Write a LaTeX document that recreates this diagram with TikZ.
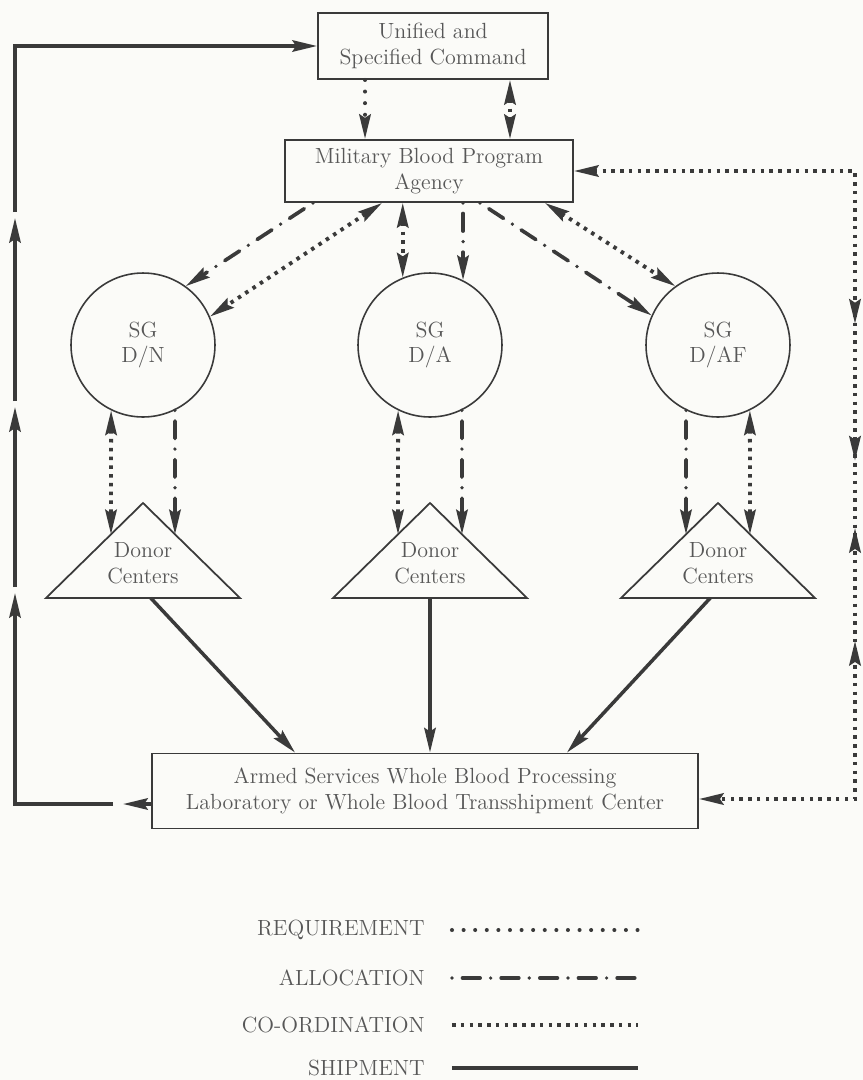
\documentclass[tikz,border=0pt]{standalone}
\usepackage{fontspec}
\usepackage{tikz}
\usetikzlibrary{arrows.meta,calc,decorations.markings}
\definecolor{ink}{HTML}{3A3A3A}
\definecolor{paper}{HTML}{FBFBF8}
\def\dgfont{\fontsize{12.5}{14.5}\selectfont}
\def\donortri(#1){\draw[ink, line width=1pt] ($(#1)+(0,-60)$) coordinate (#1A) -- ($(#1)+(-97,35)$) coordinate (#1L) -- ($(#1)+(97,35)$) coordinate (#1R) -- cycle;}
\tikzset{
  box/.style={draw=ink, line width=1.1pt, align=center, font=\dgfont, text=ink!85, inner sep=0pt},
  sg/.style={draw=ink, line width=0.9pt, circle, minimum size=2.88cm, align=center, font=\dgfont, text=ink!85, inner sep=0pt},
  lbl/.style={align=center, font=\dgfont, text=ink!85, inner sep=0pt},
  req/.style={draw=ink, line width=2.3pt, line cap=round, dash pattern=on 0pt off 6.6pt},
  alloc/.style={draw=ink, line width=2.1pt, line cap=round, dash pattern=on 0pt off 6pt on 10pt off 6pt},
  coordn/.style={draw=ink, line width=2.2pt, dash pattern=on 2pt off 3pt},
  ship/.style={draw=ink, line width=2pt},
}

\begin{document}
\begin{tikzpicture}[x=0.02cm, y=-0.02cm, >={Stealth[length=14pt,width=6.5pt,inset=2pt]}]
			%%%%% START %%%%%
			\fill[paper] (0,0) rectangle (863,1080);
			
			\node[box, minimum width=4.6cm, minimum height=1.32cm] (usc) at (433,46) {Unified and\\Specified Command};
			\node[box, minimum width=5.76cm, minimum height=1.24cm] (mbpa) at (429,171) {Military Blood Program\\Agency};
			
			\node[sg] (sgn) at (143,345) {SG\\D/N};
			\node[sg] (sga) at (430,345) {SG\\D/A};
			\node[sg] (sgf) at (718,345) {SG\\D/AF};
			
			\node[lbl] (dcn) at (143,563) {Donor\\Centers};
			\node[lbl] (dca) at (430,563) {Donor\\Centers};
			\node[lbl] (dcf) at (718,563) {Donor\\Centers};
			\donortri(dcn)
			\donortri(dca)
			\donortri(dcf)
			
			\node[box, minimum width=10.92cm, minimum height=1.5cm] (lab) at (425,791) {Armed Services Whole Blood Processing\\Laboratory or Whole Blood Transshipment Center};
			
			% command and agency
			\draw[req,->] ([xshift=-1.36cm]usc.south) -- ([xshift=-1.36cm]usc.south |- mbpa.north);
			\draw[coordn,<->] ([xshift=1.54cm]usc.south) -- ([xshift=1.54cm]usc.south |- mbpa.north);
			
			% agency to surgeons general
			\draw[alloc,->] ([xshift=0.58cm]mbpa.south west) -- (sgn.54);
			\draw[coordn,<->] ([xshift=1.96cm]mbpa.south west) -- (sgn.23);
			\draw[coordn,<->] (sga.112 |- mbpa.south) -- (sga.112);
			\draw[alloc,->] (sga.63 |- mbpa.south) -- (sga.63);
			\draw[alloc,->] ([xshift=3.92cm]mbpa.south west) -- (sgf.156);
			\draw[coordn,<->] ([xshift=5.22cm]mbpa.south west) -- (sgf.126);
			
			% surgeons general to donor centers
			\draw[coordn,<->] (sgn.-116) -- ($(dcnA)!0.33!(dcnL)$);
			\draw[alloc,->] (sgn.-64) -- ($(dcnA)!0.33!(dcnR)$);
			\draw[coordn,<->] (sga.-116) -- ($(dcaA)!0.33!(dcaL)$);
			\draw[alloc,->] (sga.-64) -- ($(dcaA)!0.33!(dcaR)$);
			\draw[alloc,->] (sgf.-116) -- ($(dcfA)!0.33!(dcfL)$);
			\draw[coordn,<->] (sgf.-64) -- ($(dcfA)!0.33!(dcfR)$);
			
			% shipments
			\draw[ship,->] ($(dcnL)!0.54!(dcnR)$) -- ([xshift=-2.6cm]lab.north);
			\draw[ship,->] ($(dcaL)!0.5!(dcaR)$) -- (dca |- lab.north);
			\draw[ship,->] ($(dcfL)!0.46!(dcfR)$) -- ([xshift=2.84cm]lab.north);
			
			% left loop
			\coordinate (lw) at ([yshift=-0.26cm]lab.west);
			\coordinate (up1) at (15,593);
			\coordinate (up2) at (15,407);
			\coordinate (up3) at (15,218);
			\draw[ship,->] (lw) -- ++(-28,0);
			\draw[ship,->] ([xshift=-0.76cm]lw) -| (up1);
			\draw[ship,->] ([yshift=0.12cm]up1) -- (up2);
			\draw[ship,->] ([yshift=0.12cm]up2) -- (up3);
			\draw[ship,->] ([yshift=0.12cm]up3) |- (usc.west);
			
			% right loop
			\coordinate (rx) at (855,0);
			\coordinate (rb) at ([yshift=-0.16cm]lab.east);
			\draw[coordn,<->,postaction={decorate}, decoration={markings,
			  mark=at position 8.68cm with {\arrow{>}},
			  mark=at position 11.42cm with {\arrow{>}},
			  mark=at position 12.76cm with {\arrowreversed{>}},
			  mark=at position 15.02cm with {\arrowreversed{>}}}]
			  (mbpa.east) -- (mbpa.east -| rx) -- (rx |- rb) -- (rb);
			
			% legend
			\node[lbl, anchor=east] (lreq) at (425,930) {REQUIREMENT};
			\node[lbl, anchor=east] (lalc) at (425,978) {ALLOCATION};
			\node[lbl, anchor=east] (lcor) at (425,1025) {CO-ORDINATION};
			\node[lbl, anchor=east] (lshp) at (425,1068) {SHIPMENT};
			\draw[req] ([xshift=0.54cm]lreq.east) -- ++(186,0);
			\draw[alloc] ([xshift=0.54cm]lalc.east) -- ++(186,0);
			\draw[coordn] ([xshift=0.54cm]lcor.east) -- ++(186,0);
			\draw[ship] ([xshift=0.54cm]lshp.east) -- ++(186,0);
			%%%%% END %%%%%
\end{tikzpicture}
\end{document}
